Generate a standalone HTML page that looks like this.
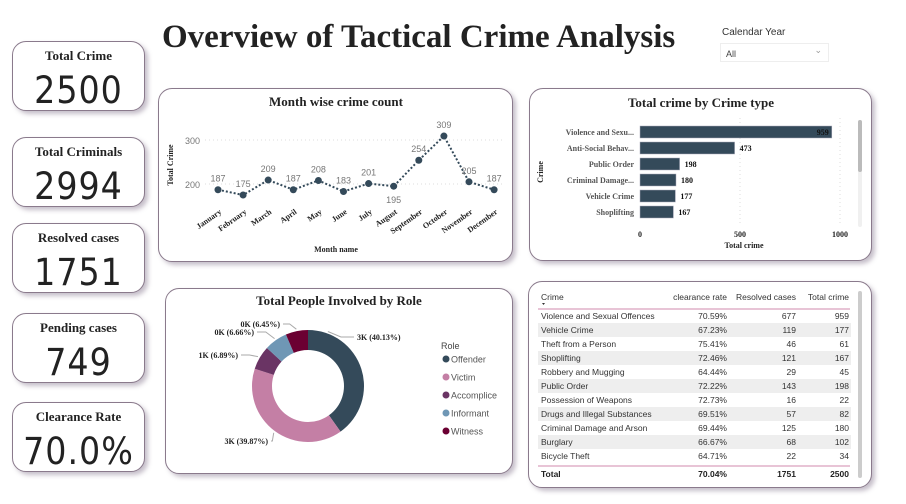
<!DOCTYPE html>
<html><head><meta charset="utf-8">
<style>
body{margin:0;width:906px;height:504px;background:#fff;position:relative;overflow:hidden;font-family:"Liberation Sans",sans-serif}
.card{position:absolute;background:#fff;border:1px solid #8a7a8c;border-radius:14px;box-shadow:3px 3px 5px rgba(90,70,100,.35);box-sizing:border-box}
.kpi .t{position:absolute;top:6px;left:0;right:0;text-align:center;font:bold 13px "Liberation Serif",serif;color:#222}
.kpi .v{position:absolute;top:27px;left:0;right:0;text-align:center;font-size:37px;color:#222;letter-spacing:1px;font-family:"Liberation Sans Narrow","DejaVu Sans Condensed","Liberation Sans",sans-serif}
svg text{font-family:"Liberation Serif",serif}
svg text.s{font-family:"Liberation Sans",sans-serif}
</style></head><body>
<div style="position:absolute;left:162px;top:19px;font:bold 33px 'Liberation Serif',serif;color:#222;white-space:nowrap">Overview of Tactical Crime Analysis</div>
<div style="position:absolute;left:722px;top:27px;font-size:10px;color:#333">Calendar Year</div>
<div style="position:absolute;left:720px;top:43px;width:109px;height:19px;border:1px solid #eee;font-size:9px;color:#444;box-sizing:border-box;padding:5px 0 0 5px">All<span style="position:absolute;right:6px;top:1px;color:#999">&#8964;</span></div>

<div class="card kpi" style="left:12px;top:41px;width:133px;height:70px"><div class="t">Total Crime</div><div class="v">2500</div></div>
<div class="card kpi" style="left:12px;top:137px;width:133px;height:70px"><div class="t">Total Criminals</div><div class="v">2994</div></div>
<div class="card kpi" style="left:12px;top:223px;width:133px;height:70px"><div class="t">Resolved cases</div><div class="v">1751</div></div>
<div class="card kpi" style="left:12px;top:313px;width:133px;height:70px"><div class="t">Pending cases</div><div class="v">749</div></div>
<div class="card kpi" style="left:12px;top:402px;width:133px;height:70px"><div class="t">Clearance Rate</div><div class="v">70.0%</div></div>

<div class="card" style="left:158px;top:88px;width:355px;height:174px"></div>
<div class="card" style="left:529px;top:88px;width:343px;height:173px"></div>
<div class="card" style="left:165px;top:288px;width:348px;height:186px"></div>
<div class="card" style="left:528px;top:281px;width:344px;height:207px"></div>

<svg id="chart" width="906" height="504" style="position:absolute;left:0;top:0">
<text x="336" y="106" text-anchor="middle" font-weight="bold" font-size="13" fill="#222">Month wise crime count</text>
<text x="701" y="107" text-anchor="middle" font-weight="bold" font-size="13" fill="#222">Total crime by Crime type</text>
<text x="339" y="305" text-anchor="middle" font-weight="bold" font-size="13" fill="#222">Total People Involved by Role</text>
<g id="line"></g><g id="bar"></g><g id="donut"></g><g id="table"></g>
</svg>
<script>
const NS="http://www.w3.org/2000/svg";
const months=["January","February","March","April","May","June","July","August","September","October","November","December"];
const monthCounts=[187,175,209,187,208,183,201,195,254,309,205,187];
const lineTicks=[200,300];
const crimeTypes=["Violence and Sexu...","Anti-Social Behav...","Public Order","Criminal Damage...","Vehicle Crime","Shoplifting"];
const crimeTotals=[959,473,198,180,177,167];
const barTicks=[0,500,1000];
const roles=["Offender","Victim","Accomplice","Informant","Witness"];
const roleShares=[40.13,39.87,6.89,6.66,6.45];
const roleLabels=["3K (40.13%)","3K (39.87%)","1K (6.89%)","0K (6.66%)","0K (6.45%)"];
const roleColors=["#344a5a","#c47fa5","#6a3464","#6f97b5","#6b0032"];
const tblCrime=["Violence and Sexual Offences","Vehicle Crime","Theft from a Person","Shoplifting","Robbery and Mugging","Public Order","Possession of Weapons","Drugs and Illegal Substances","Criminal Damage and Arson","Burglary","Bicycle Theft"];
const tblRate=["70.59%","67.23%","75.41%","72.46%","64.44%","72.22%","72.73%","69.51%","69.44%","66.67%","64.71%"];
const tblResolved=[677,119,46,121,29,143,16,57,125,68,22];
const tblTotal=[959,177,61,167,45,198,22,82,180,102,34];

function mk(p,tag,at,txt){const e=document.createElementNS(NS,tag);for(const k in at)e.setAttribute(k,at[k]);if(txt!==undefined)e.textContent=txt;p.appendChild(e);return e;}
// line chart
const L=document.getElementById('line');
const lx=i=>218+i*25.1, ly=v=>184-(v-200)*0.44;
lineTicks.forEach(t=>{mk(L,'line',{x1:205,x2:505,y1:ly(t),y2:ly(t),stroke:'#ddd','stroke-dasharray':'1 3'});
 const e=mk(L,'text',{x:200,y:ly(t)+4,'text-anchor':'end','font-size':9,fill:'#777',class:'s'},t);});
const pl=mk(L,'polyline',{points:monthCounts.map((v,i)=>lx(i)+','+ly(v)).join(' '),fill:'none',stroke:'#344a5a','stroke-width':2,'stroke-dasharray':'2 2'});

monthCounts.forEach((v,i)=>{const c=mk(L,'circle',{cx:lx(i),cy:ly(v),r:3.5,fill:'#344a5a'});
 
 const below=(months[i]==="August");
 mk(L,'text',{x:lx(i),y:below?ly(v)+17:ly(v)-8,'text-anchor':'middle','font-size':9,fill:'#777',class:'s'},v);
 const m=mk(L,'text',{x:lx(i)+4,y:213,'text-anchor':'end','font-size':8,'font-weight':'bold',fill:'#222',transform:`rotate(-35 ${lx(i)+4} 213)`},months[i]);
 });
mk(L,'text',{x:336,y:252,'text-anchor':'middle','font-size':8,'font-weight':'bold',fill:'#222'},'Month name');
mk(L,'text',{x:173,y:165,'text-anchor':'middle','font-size':8,'font-weight':'bold',fill:'#222',transform:'rotate(-90 173 165)'},'Total Crime');
// bar chart
const B=document.getElementById('bar');
const bx=v=>640+v*0.2, by=i=>132+i*16;
barTicks.forEach(t=>{if(t>0)mk(B,'line',{x1:bx(t),x2:bx(t),y1:118,y2:224,stroke:'#ddd','stroke-dasharray':'1 3'});
 mk(B,'text',{x:bx(t),y:237,'text-anchor':'middle','font-size':8,'font-weight':'bold',fill:'#222'},t);});
crimeTotals.forEach((v,i)=>{const r=mk(B,'rect',{x:bx(0),y:by(i)-6,width:bx(v)-bx(0),height:12,fill:'#344a5a',stroke:'#aab',"stroke-width":0.5});
 
 mk(B,'text',{x:634,y:by(i)+3,'text-anchor':'end','font-size':8,'font-weight':'bold',fill:'#555'},crimeTypes[i]);
 const inside=v>800;
 mk(B,'text',{x:inside?bx(v)-3:bx(v)+5,y:by(i)+3,'text-anchor':inside?'end':'start','font-size':8,'font-weight':'bold',fill:'#111'},v);});
mk(B,'text',{x:744,y:248,'text-anchor':'middle','font-size':8,'font-weight':'bold',fill:'#222'},'Total crime');
mk(B,'text',{x:543,y:172,'text-anchor':'middle','font-size':8,'font-weight':'bold',fill:'#222',transform:'rotate(-90 543 172)'},'Crime');
mk(B,'rect',{x:858,y:120,width:4,height:107,rx:2,fill:'#f0f0f0'});
const sb=mk(B,'rect',{x:858,y:120,width:4,height:52,rx:2,fill:'#bbb'});
// donut
const D=document.getElementById('donut');
const cx=308,cy=386,R=56,r0=36;
const sum=roleShares.reduce((a,b)=>a+b,0);
let a0=0;
const lblPos=[[357,340,'start'],[268,444,'end'],[238,358,'end'],[254,335,'end'],[280,327,'end']];
roleShares.forEach((s,i)=>{const a1=a0+s/sum*2*Math.PI;
 const p=(a,rr)=>[cx+rr*Math.sin(a),cy-rr*Math.cos(a)];
 const [x1,y1]=p(a0,R),[x2,y2]=p(a1,R),[x3,y3]=p(a1,r0),[x4,y4]=p(a0,r0);const lg=(a1-a0)>Math.PI?1:0;
 const path=mk(D,'path',{d:`M${x1},${y1}A${R},${R} 0 ${lg} 1 ${x2},${y2}L${x3},${y3}A${r0},${r0} 0 ${lg} 0 ${x4},${y4}Z`,fill:roleColors[i]});
 
 const lp=lblPos[i];
 const am=i===0?(a0+0.35):(a0+a1)/2;const [mx,my]=p(am,R+2);const ex=lp[0]+(lp[2]==='start'?-3:3);
 mk(D,'polyline',{points:`${mx},${my} ${(mx+ex)/2},${lp[1]-3} ${ex},${lp[1]-3}`,fill:'none',stroke:'#aaa','stroke-width':1});
 mk(D,'text',{x:lp[0],y:lp[1],'text-anchor':lp[2],'font-size':8,'font-weight':'bold',fill:'#222'},roleLabels[i]);
 a0=a1;});
mk(D,'text',{x:441,y:349,'font-size':9,fill:'#444',class:'s'},'Role');
roles.forEach((n,i)=>{const y=359+i*18;const c=mk(D,'circle',{cx:446,cy:y,r:3.5,fill:roleColors[i]});
 
 mk(D,'text',{x:451,y:y+3.5,'font-size':9,fill:'#555',class:'s'},n);});
// table
const T=document.getElementById('table');
const hdr=(x,t,anc)=>mk(T,'text',{x:x,y:300,'text-anchor':anc,'font-size':8.5,fill:'#333',class:'s'},t);
hdr(541,'Crime','start');hdr(727,'clearance rate','end');hdr(796,'Resolved cases','end');hdr(849,'Total crime','end');
mk(T,'path',{d:'M542,303 l3,0 -1.5,2z',fill:'#333'});
mk(T,'line',{x1:538,x2:850,y1:309,y2:309,stroke:'#d08aad','stroke-width':1});
tblCrime.forEach((c,i)=>{const y=316+i*14;
 if(i%2===1){mk(T,'rect',{x:538,y:y-7,width:313,height:14,fill:'#eeeeee'});}
 const row=mk(T,'text',{x:541,y:y+3,'font-size':8.5,fill:'#333',class:'s'},c);
 
 mk(T,'text',{x:727,y:y+3,'text-anchor':'end','font-size':8.5,fill:'#333',class:'s'},tblRate[i]);
 mk(T,'text',{x:796,y:y+3,'text-anchor':'end','font-size':8.5,fill:'#333',class:'s'},tblResolved[i]);
 mk(T,'text',{x:849,y:y+3,'text-anchor':'end','font-size':8.5,fill:'#333',class:'s'},tblTotal[i]);});
mk(T,'line',{x1:538,x2:850,y1:466,y2:466,stroke:'#d08aad','stroke-width':1});
const tot=[[541,'Total','start'],[727,'70.04%','end'],[796,'1751','end'],[849,'2500','end']];
tot.forEach(t=>mk(T,'text',{x:t[0],y:477,'text-anchor':t[2],'font-size':8.5,'font-weight':'bold',fill:'#222',class:'s'},t[1]));
mk(T,'rect',{x:858,y:291,width:4,height:187,rx:2,fill:'#ccc'});
</script>
</body></html>
